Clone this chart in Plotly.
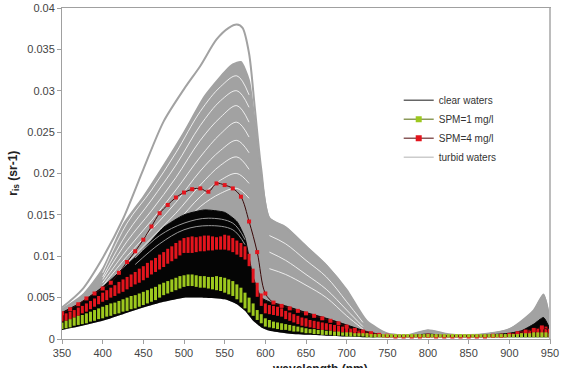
import plotly.graph_objects as go
import numpy as np

# ---------------- data ----------------
# coarse wavelength grid for envelopes of the clear-water spectra (nm)
WL_G = [350, 375, 400, 425, 450, 475, 500, 525, 550, 565, 575, 585, 595, 605, 625,
        650, 675, 700, 725, 750, 775, 800, 825, 850, 875, 900, 915, 930, 942, 950]
CLEAR_UP = [0.0032, 0.0045, 0.0063, 0.0085, 0.0108, 0.0135, 0.0150, 0.0156, 0.0153, 0.0142,
            0.0122, 0.0075, 0.0050, 0.0045, 0.0040, 0.0032, 0.0025, 0.0017, 0.0009, 0.0004,
            0.0004, 0.0006, 0.0004, 0.0004, 0.0005, 0.0007, 0.0010, 0.0018, 0.0026, 0.0012]
CLEAR_LO = [0.0011, 0.0016, 0.0022, 0.0030, 0.0038, 0.0045, 0.0050, 0.0050, 0.0048, 0.0042,
            0.0034, 0.0022, 0.0014, 0.0010, 0.0007, 0.0005, 0.0004, 0.0003, 0.0002, 0.0002,
            0.0002, 0.0002, 0.0002, 0.0002, 0.0002, 0.0002, 0.0002, 0.0002, 0.0002, 0.0002]

# turbid waters: upper edge of the bundle of spectra
WL_U = [350, 375, 400, 425, 450, 475, 500, 525, 550, 560, 570, 580, 587, 595, 605, 625,
        650, 675, 700, 725, 750, 775, 800, 825, 850, 875, 900, 915, 930, 942, 950]
TURBID_UP = [0.0036, 0.0053, 0.0085, 0.0138, 0.0172, 0.0210, 0.0250, 0.0293, 0.0323, 0.0332,
             0.0335, 0.0313, 0.0265, 0.0200, 0.0146, 0.0135, 0.0112, 0.0089, 0.0060, 0.0022,
             0.0007, 0.0005, 0.0011, 0.0006, 0.0005, 0.0007, 0.0012, 0.0022, 0.0035, 0.0054, 0.0022]
# turbid waters: highest single spectrum
WL_M = [350, 375, 400, 425, 450, 475, 500, 520, 540, 555, 565, 572, 580, 587, 595, 605, 625,
        650, 675, 700, 725, 750, 775, 800, 825, 850, 875, 900, 915, 930, 942, 950]
TURBID_MAX = [0.0038, 0.0060, 0.0098, 0.0145, 0.0205, 0.0263, 0.0302, 0.0330, 0.0362, 0.0376,
              0.0380, 0.0376, 0.0345, 0.0280, 0.0205, 0.0146, 0.0135, 0.0112, 0.0089, 0.0058,
              0.0020, 0.0006, 0.0004, 0.0010, 0.0005, 0.0004, 0.0006, 0.0012, 0.0020, 0.0033,
              0.0052, 0.0020]

# individual turbid spectra seen as gaps inside the bundle
WL_S = [400, 430, 460, 490, 520, 545, 565, 580]
GAP_T = [
    [0.0080, 0.0140, 0.0180, 0.0225, 0.0275, 0.0305, 0.0318, 0.0295],
    [0.0075, 0.0128, 0.0168, 0.0210, 0.0258, 0.0288, 0.0300, 0.0280],
    [0.0072, 0.0118, 0.0155, 0.0195, 0.0240, 0.0268, 0.0282, 0.0262],
    [0.0068, 0.0108, 0.0143, 0.0180, 0.0220, 0.0248, 0.0262, 0.0244],
    [0.0064, 0.0100, 0.0132, 0.0165, 0.0203, 0.0228, 0.0240, 0.0225],
    [0.0060, 0.0092, 0.0122, 0.0152, 0.0186, 0.0210, 0.0220, 0.0205],
    [0.0057, 0.0086, 0.0112, 0.0140, 0.0172, 0.0192, 0.0200, 0.0188],
    [0.0054, 0.0080, 0.0104, 0.0130, 0.0160, 0.0176, 0.0182, 0.0170],
]
WL_S2 = [605, 625, 650, 675, 700, 720]
GAP_T2 = [
    [0.0125, 0.0115, 0.0095, 0.0075, 0.0045, 0.0020],
    [0.0105, 0.0095, 0.0078, 0.0060, 0.0035, 0.0015],
    [0.0085, 0.0078, 0.0065, 0.0050, 0.0028, 0.0012],
]
WL_S3 = [440, 470, 500, 530, 560, 575]
GAP_C = [
    [0.0098, 0.0125, 0.0140, 0.0146, 0.0140, 0.0120],
    [0.0090, 0.0115, 0.0132, 0.0137, 0.0132, 0.0114],
]

# SPM bands, 5 nm sampling (350..950)
WL5 = list(range(350, 955, 5))
SPM1_UP = [0.0020, 0.0022, 0.0024, 0.0026, 0.0028, 0.0029, 0.0031, 0.0033, 0.0035, 0.0037,
           0.0039, 0.0041, 0.0043, 0.0044, 0.0046, 0.0048, 0.0050, 0.0052, 0.0053, 0.0055,
           0.0057, 0.0059, 0.0061, 0.0063, 0.0066, 0.0068, 0.0070, 0.0072, 0.0074, 0.0076,
           0.0077, 0.0078, 0.0078, 0.0077, 0.0076, 0.0076, 0.0075, 0.0075, 0.0076, 0.0075,
           0.0074, 0.0072, 0.0070, 0.0066, 0.0062, 0.0056, 0.0050, 0.0043, 0.0035, 0.0030,
           0.0025, 0.0023, 0.0021, 0.0020, 0.0019, 0.0018, 0.0017, 0.0016, 0.0015, 0.0014,
           0.0013, 0.0012, 0.0012, 0.0011, 0.0011, 0.0010, 0.0010, 0.0009, 0.0009, 0.0008,
           0.0008, 0.0008, 0.0007, 0.0007, 0.0007, 0.0007, 0.0006, 0.0006, 0.0006, 0.0006,
           0.0006, 0.0006, 0.0006, 0.0006, 0.0006, 0.0006, 0.0006, 0.0006, 0.0006, 0.0006,
           0.0006, 0.0006, 0.0006, 0.0006, 0.0006, 0.0006, 0.0006, 0.0006, 0.0006, 0.0006,
           0.0006, 0.0006, 0.0006, 0.0006, 0.0006, 0.0006, 0.0006, 0.0006, 0.0006, 0.0006,
           0.0006, 0.0006, 0.0006, 0.0007, 0.0007, 0.0007, 0.0008, 0.0008, 0.0008, 0.0008,
           0.0007]
SPM1_LO = [0.0012, 0.0013, 0.0014, 0.0016, 0.0017, 0.0018, 0.0019, 0.0021, 0.0022, 0.0024,
           0.0025, 0.0027, 0.0028, 0.0030, 0.0031, 0.0033, 0.0034, 0.0036, 0.0037, 0.0039,
           0.0041, 0.0043, 0.0045, 0.0047, 0.0050, 0.0053, 0.0055, 0.0057, 0.0059, 0.0061,
           0.0063, 0.0064, 0.0064, 0.0063, 0.0062, 0.0062, 0.0061, 0.0060, 0.0059, 0.0058,
           0.0056, 0.0054, 0.0052, 0.0048, 0.0044, 0.0037, 0.0032, 0.0028, 0.0023, 0.0019,
           0.0015, 0.0014, 0.0013, 0.0012, 0.0011, 0.0011, 0.0010, 0.0009, 0.0009, 0.0008,
           0.0007, 0.0007, 0.0006, 0.0006, 0.0005, 0.0005, 0.0005, 0.0004, 0.0004, 0.0004,
           0.0003, 0.0003, 0.0003, 0.0003, 0.0003, 0.0002, 0.0002, 0.0002, 0.0002, 0.0002,
           0.0002, 0.0002, 0.0002, 0.0002, 0.0002, 0.0002, 0.0002, 0.0002, 0.0002, 0.0002,
           0.0002, 0.0002, 0.0002, 0.0002, 0.0002, 0.0002, 0.0002, 0.0002, 0.0002, 0.0002,
           0.0002, 0.0002, 0.0002, 0.0002, 0.0002, 0.0002, 0.0002, 0.0002, 0.0002, 0.0002,
           0.0002, 0.0002, 0.0002, 0.0002, 0.0002, 0.0002, 0.0002, 0.0002, 0.0002, 0.0002,
           0.0002]
SPM4_UP = [0.0029, 0.0031, 0.0033, 0.0035, 0.0038, 0.0040, 0.0043, 0.0046, 0.0049, 0.0052,
           0.0056, 0.0059, 0.0062, 0.0065, 0.0069, 0.0072, 0.0075, 0.0078, 0.0081, 0.0085,
           0.0088, 0.0092, 0.0095, 0.0098, 0.0102, 0.0105, 0.0109, 0.0112, 0.0116, 0.0119,
           0.0122, 0.0123, 0.0124, 0.0123, 0.0124, 0.0125, 0.0125, 0.0124, 0.0123, 0.0124,
           0.0126, 0.0125, 0.0122, 0.0119, 0.0116, 0.0112, 0.0103, 0.0085, 0.0068, 0.0055,
           0.0043, 0.0041, 0.0040, 0.0039, 0.0037, 0.0034, 0.0032, 0.0030, 0.0028, 0.0026,
           0.0025, 0.0023, 0.0022, 0.0021, 0.0020, 0.0019, 0.0018, 0.0017, 0.0016, 0.0015,
           0.0015, 0.0013, 0.0012, 0.0011, 0.0010, 0.0009, 0.0008, 0.0007, 0.0007, 0.0006,
           0.0006, 0.0006, 0.0005, 0.0005, 0.0005, 0.0005, 0.0005, 0.0005, 0.0005, 0.0005,
           0.0005, 0.0005, 0.0005, 0.0005, 0.0005, 0.0005, 0.0005, 0.0005, 0.0005, 0.0005,
           0.0005, 0.0005, 0.0005, 0.0005, 0.0005, 0.0005, 0.0005, 0.0005, 0.0005, 0.0005,
           0.0006, 0.0007, 0.0008, 0.0009, 0.0010, 0.0011, 0.0012, 0.0013, 0.0014, 0.0015,
           0.0012]
SPM4_LO = [0.0021, 0.0022, 0.0024, 0.0026, 0.0028, 0.0031, 0.0033, 0.0036, 0.0039, 0.0042,
           0.0045, 0.0047, 0.0050, 0.0052, 0.0055, 0.0057, 0.0060, 0.0063, 0.0066, 0.0068,
           0.0071, 0.0074, 0.0078, 0.0081, 0.0084, 0.0087, 0.0091, 0.0094, 0.0097, 0.0101,
           0.0104, 0.0104, 0.0104, 0.0105, 0.0106, 0.0106, 0.0107, 0.0107, 0.0108, 0.0108,
           0.0108, 0.0107, 0.0105, 0.0102, 0.0099, 0.0096, 0.0088, 0.0068, 0.0051, 0.0040,
           0.0031, 0.0030, 0.0029, 0.0028, 0.0027, 0.0024, 0.0022, 0.0020, 0.0018, 0.0016,
           0.0015, 0.0014, 0.0013, 0.0012, 0.0011, 0.0011, 0.0010, 0.0009, 0.0008, 0.0008,
           0.0007, 0.0006, 0.0005, 0.0005, 0.0004, 0.0004, 0.0003, 0.0003, 0.0003, 0.0002,
           0.0002, 0.0002, 0.0002, 0.0002, 0.0002, 0.0002, 0.0002, 0.0002, 0.0002, 0.0002,
           0.0002, 0.0002, 0.0002, 0.0002, 0.0002, 0.0002, 0.0002, 0.0002, 0.0002, 0.0002,
           0.0002, 0.0002, 0.0002, 0.0002, 0.0002, 0.0002, 0.0002, 0.0002, 0.0002, 0.0002,
           0.0003, 0.0003, 0.0003, 0.0003, 0.0003, 0.0003, 0.0003, 0.0003, 0.0003, 0.0003,
           0.0002]

# single SPM=4 spectrum (10 nm sampling)
WL10 = list(range(350, 955, 10))
SPM4_SINGLE = [0.0031, 0.0036, 0.0042, 0.0049, 0.0055, 0.0061, 0.0068, 0.0080, 0.0093, 0.0106,
               0.0120, 0.0136, 0.0152, 0.0162, 0.0171, 0.0177, 0.0181, 0.0182, 0.0178, 0.0188,
               0.0186, 0.0182, 0.0172, 0.0142, 0.0105, 0.0055, 0.0044, 0.0040, 0.0037, 0.0034,
               0.0031, 0.0028, 0.0025, 0.0022, 0.0019, 0.0015, 0.0011, 0.0009, 0.0007, 0.0005,
               0.0004, 0.0003, 0.0003, 0.0003, 0.0003, 0.0004, 0.0003, 0.0003, 0.0003, 0.0003,
               0.0003, 0.0003, 0.0003, 0.0004, 0.0004, 0.0005, 0.0007, 0.0009, 0.0011, 0.0014,
               0.0010]

X_TICKS = list(range(350, 951, 50))

# ---------------- styles ----------------
GRAY = "#a2a2a2"
GREEN = "#9dc81e"
RED = "#e3151d"
FONT = "Liberation Sans, Arial, sans-serif"


def segments(xs, lo, hi):
    sx, sy = [], []
    for x, a, b in zip(xs, lo, hi):
        sx += [x, x, None]
        sy += [a, b, None]
    return sx, sy


fig = go.Figure()

# turbid waters bundle
fig.add_trace(go.Scatter(x=WL_G, y=CLEAR_LO, mode="lines", line=dict(width=0, shape="spline", smoothing=0.5),
                         hoverinfo="skip", showlegend=False))
fig.add_trace(go.Scatter(x=WL_U, y=TURBID_UP, mode="lines", fill="tonexty", fillcolor=GRAY,
                         line=dict(color=GRAY, width=1.5, shape="spline", smoothing=0.6), showlegend=False))
fig.add_trace(go.Scatter(x=WL_M, y=TURBID_MAX, mode="lines",
                         line=dict(color=GRAY, width=2, shape="spline", smoothing=0.8), showlegend=False))
for g in GAP_T:
    fig.add_trace(go.Scatter(x=WL_S, y=g, mode="lines", opacity=0.9,
                             line=dict(color="white", width=0.9, shape="spline"), showlegend=False))
for g in GAP_T2:
    fig.add_trace(go.Scatter(x=WL_S2, y=g, mode="lines", opacity=0.9,
                             line=dict(color="white", width=0.9, shape="spline"), showlegend=False))

# clear waters bundle
fig.add_trace(go.Scatter(x=WL_G, y=CLEAR_LO, mode="lines", line=dict(width=0, shape="spline", smoothing=0.5),
                         hoverinfo="skip", showlegend=False))
fig.add_trace(go.Scatter(x=WL_G, y=CLEAR_UP, mode="lines", fill="tonexty", fillcolor="#050505",
                         line=dict(color="#050505", width=1, shape="spline", smoothing=0.5), showlegend=False))
for g in GAP_C:
    fig.add_trace(go.Scatter(x=WL_S3, y=g, mode="lines", opacity=0.8,
                             line=dict(color="#bdbdbd", width=1, shape="spline"), showlegend=False))

# SPM = 4 mg/l band
sx, sy = segments(WL5, SPM4_LO, SPM4_UP)
fig.add_trace(go.Scatter(x=sx, y=sy, mode="lines", line=dict(color=RED, width=3), showlegend=False))
fig.add_trace(go.Scatter(x=WL10, y=SPM4_SINGLE, mode="lines+markers",
                         line=dict(color="#3a0a0a", width=1, shape="spline"),
                         marker=dict(symbol="square", size=4, color=RED), showlegend=False))

# SPM = 1 mg/l band
sx, sy = segments(WL5, SPM1_LO, SPM1_UP)
fig.add_trace(go.Scatter(x=sx, y=sy, mode="lines", line=dict(color=GREEN, width=3), showlegend=False))

# legend entries
fig.add_trace(go.Scatter(x=[None], y=[None], mode="lines", name="clear waters",
                         line=dict(color="#666666", width=1.5)))
fig.add_trace(go.Scatter(x=[None], y=[None], mode="lines+markers", name="SPM=1 mg/l",
                         line=dict(color="#8c9a5a", width=1.5),
                         marker=dict(symbol="square", size=6, color=GREEN)))
fig.add_trace(go.Scatter(x=[None], y=[None], mode="lines+markers", name="SPM=4 mg/l",
                         line=dict(color="#8a5a5a", width=1.5),
                         marker=dict(symbol="square", size=6, color=RED)))
fig.add_trace(go.Scatter(x=[None], y=[None], mode="lines", name="turbid waters",
                         line=dict(color="#cccccc", width=1.5)))

axis_common = dict(showgrid=False, zeroline=False, showline=True, linecolor="#a0a0a0", linewidth=1,
                   mirror=True, ticks="outside", ticklen=4, tickcolor="#a0a0a0",
                   automargin=False,
                   tickfont=dict(family=FONT, size=11, color="#444444"))

fig.update_layout(
    width=561, height=368,
    margin=dict(l=62, r=11, t=8, b=29),
    paper_bgcolor="white", plot_bgcolor="white",
    font=dict(family=FONT),
    xaxis=dict(range=[350, 950], tickvals=X_TICKS, **axis_common),
    yaxis=dict(range=[0, 0.04], dtick=0.005, **axis_common),
    legend=dict(x=0.69, y=0.765, xanchor="left", yanchor="top", bgcolor="rgba(0,0,0,0)",
                traceorder="normal",
                font=dict(family=FONT, size=10, color="#333333"), itemwidth=30, tracegroupgap=0),
    annotations=[
        dict(text="<b>wavelength (nm)</b>", xref="paper", yref="paper", x=0.529, y=-0.063,
             xanchor="center", yanchor="top", showarrow=False,
             font=dict(family=FONT, size=12, color="#222222")),
        dict(text="<b>r<sub>is</sub> (sr-1)</b>", xref="paper", yref="paper", x=-0.1, y=0.5,
             xanchor="center", yanchor="middle", textangle=-90, showarrow=False,
             font=dict(family=FONT, size=12, color="#222222")),
    ],
    shapes=[dict(type="line", xref="paper", yref="paper", x0=1, x1=1, y0=0, y1=1,
                 line=dict(color="#bcbcbc", width=2))],
)

fig.write_html("out.html")
